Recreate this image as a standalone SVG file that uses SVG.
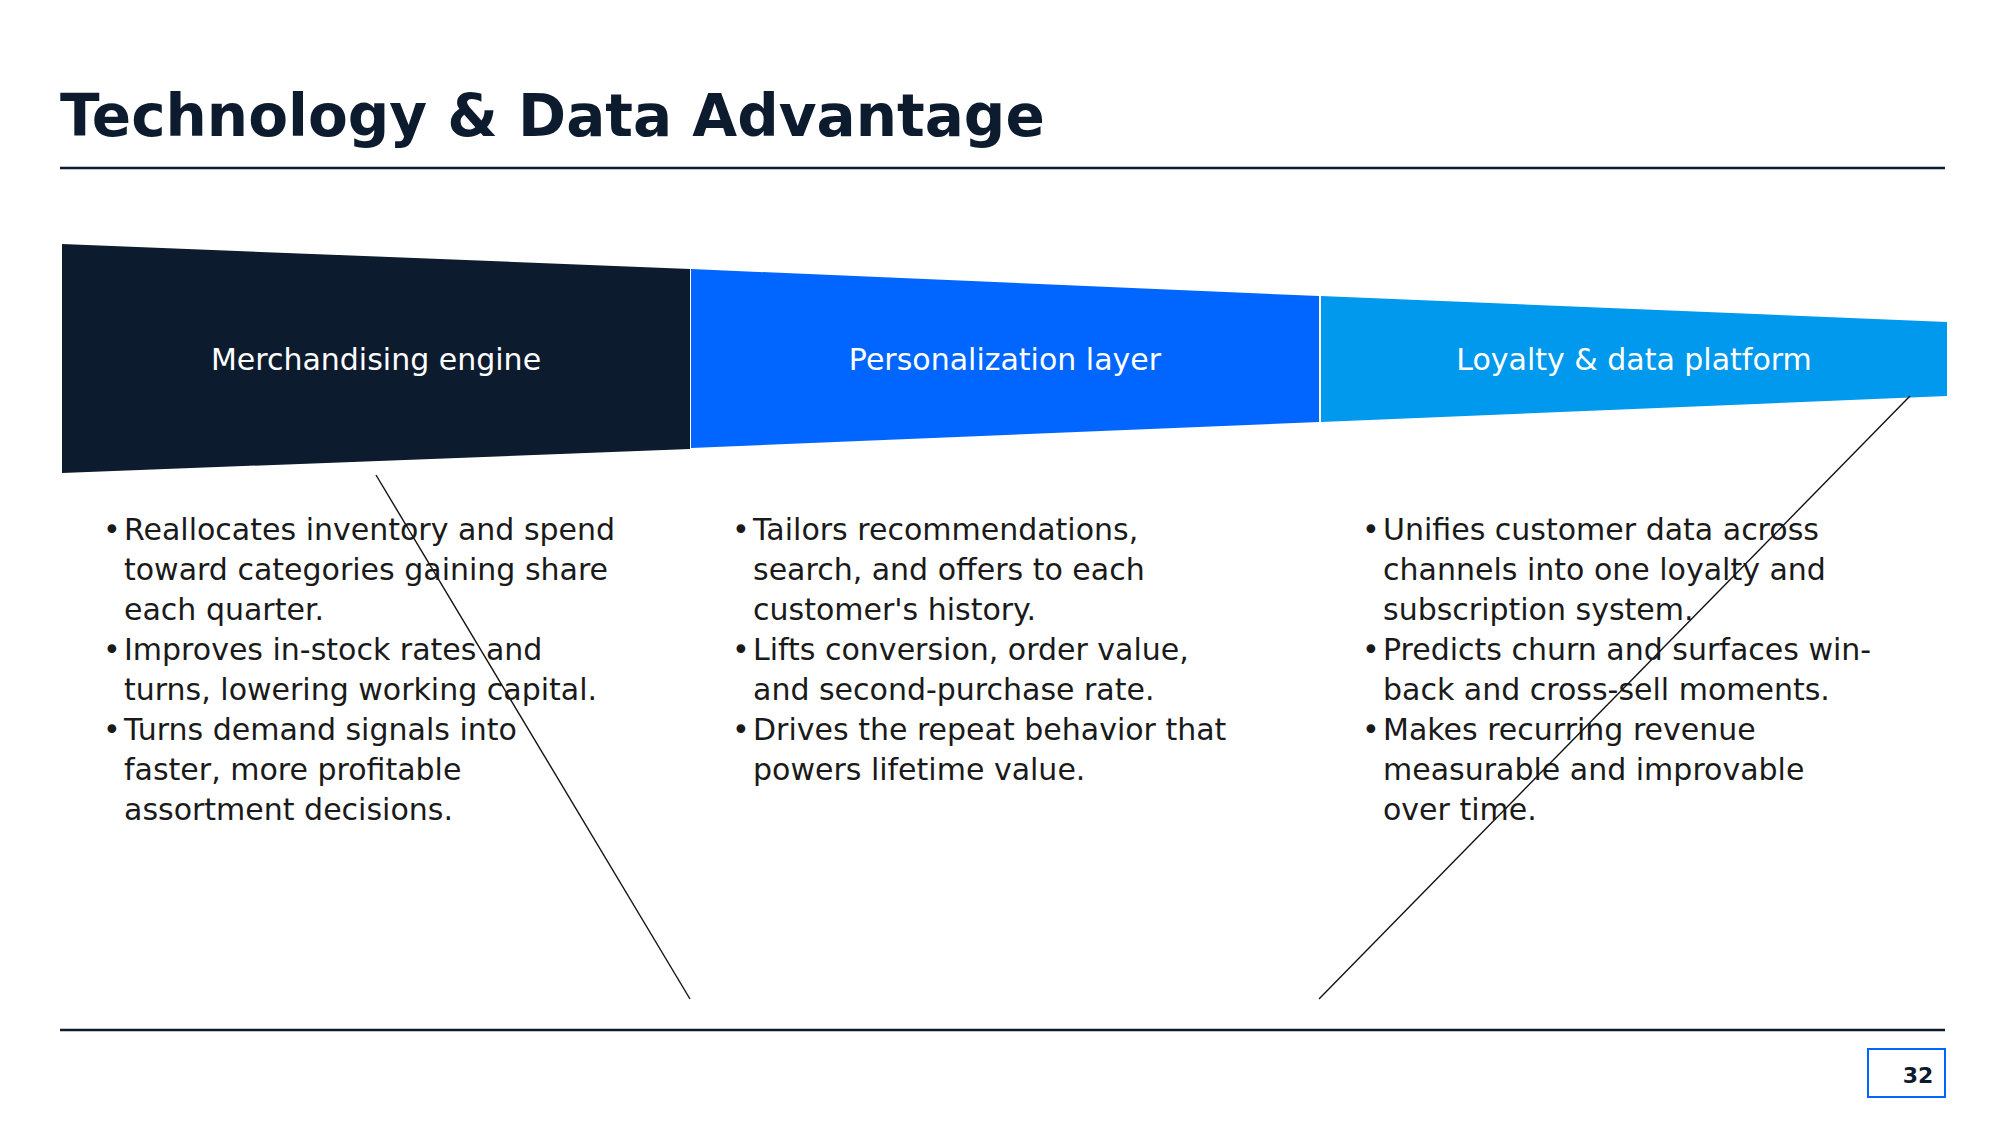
<svg xmlns="http://www.w3.org/2000/svg" width="2001" height="1125" viewBox="0 0 2001 1125">
<style>
.t{font-family:"DejaVu Sans",sans-serif;fill:#1a1a1a;font-size:30px}
.h{font-family:"DejaVu Sans",sans-serif;fill:#fff;font-size:30px;text-anchor:middle}
.rule{stroke:#0D1B2E;stroke-width:2.5}
</style>
<rect width="2001" height="1125" fill="#fff"/>
<text x="60" y="136" font-family="DejaVu Sans,sans-serif" font-weight="bold" font-size="58" fill="#0D1B2E">Technology &amp; Data Advantage</text>
<line class="rule" x1="60" y1="168" x2="1945" y2="168"/>
<g id="seg1"><polygon points="62,244 690,269 690,449 62,473" fill="#0D1B2E"/><text class="h" x="376" y="370">Merchandising engine</text></g>
<g id="seg2"><polygon points="691,269 1319,296 1319,422 691,448" fill="#0066FF"/><text class="h" x="1005" y="370">Personalization layer</text></g>
<g id="seg3"><polygon points="1321,296 1947,322 1947,396 1321,422" fill="#0099EE"/><text class="h" x="1634" y="370">Loyalty &amp; data platform</text></g>
<g id="connectors" stroke="#111" stroke-width="1.4">
<line x1="376" y1="475" x2="690" y2="999"/>
<line x1="1910" y1="396" x2="1319" y2="999"/>
</g>
<g id="col1" class="t">
<text x="103" y="540">•</text><text x="124" y="540">Reallocates inventory and spend</text>
<text x="124" y="580">toward categories gaining share</text>
<text x="124" y="620">each quarter.</text>
<text x="103" y="660">•</text><text x="124" y="660">Improves in-stock rates and</text>
<text x="124" y="700">turns, lowering working capital.</text>
<text x="103" y="740">•</text><text x="124" y="740">Turns demand signals into</text>
<text x="124" y="780">faster, more profitable</text>
<text x="124" y="820">assortment decisions.</text>
</g>
<g id="col2" class="t">
<text x="732" y="540">•</text><text x="753" y="540">Tailors recommendations,</text>
<text x="753" y="580">search, and offers to each</text>
<text x="753" y="620">customer's history.</text>
<text x="732" y="660">•</text><text x="753" y="660">Lifts conversion, order value,</text>
<text x="753" y="700">and second-purchase rate.</text>
<text x="732" y="740">•</text><text x="753" y="740">Drives the repeat behavior that</text>
<text x="753" y="780">powers lifetime value.</text>
</g>
<g id="col3" class="t">
<text x="1362" y="540">•</text><text x="1383" y="540">Unifies customer data across</text>
<text x="1383" y="580">channels into one loyalty and</text>
<text x="1383" y="620">subscription system.</text>
<text x="1362" y="660">•</text><text x="1383" y="660">Predicts churn and surfaces win-</text>
<text x="1383" y="700">back and cross-sell moments.</text>
<text x="1362" y="740">•</text><text x="1383" y="740">Makes recurring revenue</text>
<text x="1383" y="780">measurable and improvable</text>
<text x="1383" y="820">over time.</text>
</g>
<line class="rule" x1="60" y1="1030" x2="1945" y2="1030"/>
<g id="page"><rect x="1868" y="1049" width="77" height="48" fill="none" stroke="#0066FF" stroke-width="2"/>
<text x="1918" y="1083" font-family="DejaVu Sans,sans-serif" font-weight="bold" font-size="22" fill="#0D1B2E" text-anchor="middle">32</text></g>
</svg>
